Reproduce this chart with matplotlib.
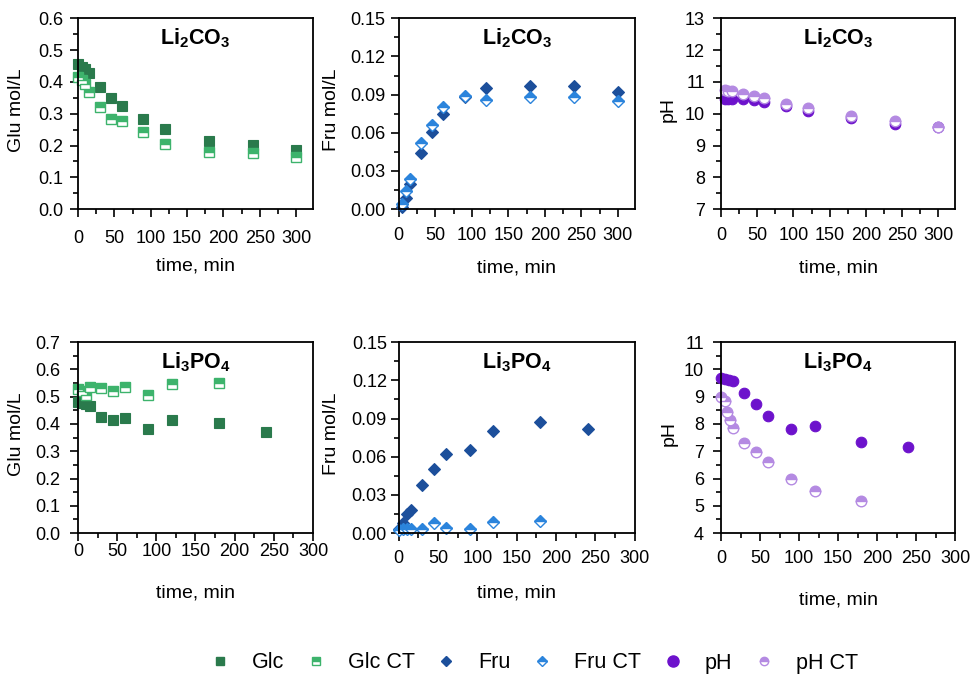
import matplotlib
matplotlib.use("Agg")
import matplotlib.pyplot as plt
from matplotlib.ticker import MultipleLocator, FormatStrFormatter
from matplotlib.lines import Line2D

plt.rcParams['font.family'] = ['Liberation Sans', 'DejaVu Sans']
plt.rcParams['mathtext.fontset'] = 'custom'
plt.rcParams['mathtext.rm'] = 'Liberation Sans'
plt.rcParams['mathtext.bf'] = 'Liberation Sans:bold'

# ---- Li2CO3 runs ----
t_glc_co3 = [0, 5, 10, 15, 30, 45, 60, 90, 120, 180, 240, 300]
glc_co3 = [0.455, 0.447, 0.440, 0.428, 0.385, 0.348, 0.325, 0.285, 0.252, 0.215, 0.202, 0.187]
glc_ct_co3 = [0.415, 0.405, 0.395, 0.368, 0.322, 0.285, 0.278, 0.243, 0.205, 0.180, 0.175, 0.165]

t_fru_co3 = [5, 10, 15, 30, 45, 60, 90, 120, 180, 240, 300]
fru_co3 = [0.002, 0.009, 0.020, 0.044, 0.061, 0.075, 0.088, 0.095, 0.097, 0.097, 0.092]
fru_ct_co3 = [0.004, 0.014, 0.024, 0.052, 0.066, 0.080, 0.089, 0.086, 0.088, 0.088, 0.085]

t_ph_co3 = [5, 10, 15, 30, 45, 60, 90, 120, 180, 240, 300]
ph_co3 = [10.45, 10.45, 10.47, 10.47, 10.43, 10.38, 10.24, 10.08, 9.87, 9.67, 9.57]
ph_ct_co3 = [10.74, 10.72, 10.70, 10.63, 10.57, 10.50, 10.32, 10.17, 9.92, 9.77, 9.59]

# ---- Li3PO4 runs ----
t_glc_po4 = [0, 5, 10, 15, 30, 45, 60, 90, 120, 180, 240]
glc_po4 = [0.482, 0.476, 0.472, 0.467, 0.427, 0.415, 0.423, 0.383, 0.416, 0.403, 0.370]
t_glc_ct_po4 = [0, 5, 10, 15, 30, 45, 60, 90, 120, 180]
glc_ct_po4 = [0.530, 0.520, 0.505, 0.537, 0.531, 0.522, 0.537, 0.508, 0.545, 0.551]

t_fru_po4 = [0, 5, 10, 15, 30, 45, 60, 90, 120, 180, 240]
fru_po4 = [0.003, 0.008, 0.015, 0.018, 0.038, 0.050, 0.062, 0.065, 0.080, 0.087, 0.082]
t_fru_ct_po4 = [0, 5, 10, 15, 30, 45, 60, 90, 120, 180]
fru_ct_po4 = [0.002, 0.003, 0.003, 0.003, 0.003, 0.008, 0.004, 0.003, 0.009, 0.0097]

t_ph_po4 = [0, 5, 10, 15, 30, 45, 60, 90, 120, 180, 240]
ph_po4 = [9.68, 9.65, 9.62, 9.57, 9.15, 8.74, 8.31, 7.82, 7.94, 7.35, 7.15]
t_ph_ct_po4 = [0, 5, 8, 11, 15, 30, 45, 60, 90, 120, 180]
ph_ct_po4 = [9.00, 8.85, 8.45, 8.15, 7.85, 7.32, 6.96, 6.61, 6.00, 5.54, 5.18]

# colours
GLC = '#2a7a4c'
GLC_CT = '#3db36c'
FRU = '#1c4f9b'
FRU_CT = '#2b84dc'
PH = '#6d12cc'
PH_CT = '#b48ae2'

TITLE_CO3 = r'$\mathbf{Li_2CO_3}$'
TITLE_PO4 = r'$\mathbf{Li_3PO_4}$'

fig = plt.figure(figsize=(9.75, 6.79), dpi=100)

top_b, bot_b, h = 0.692, 0.215, 0.281
lefts = [0.080, 0.409, 0.7395]
widths = [0.241, 0.242, 0.240]


def style_axis(ax, xmax, ylim, ymajor, yfmt, ylabel, title,
               xpad, ypad, xlab_y, ylab_x):
    ax.set_xlim(0, xmax)
    ax.set_ylim(*ylim)
    ax.xaxis.set_major_locator(MultipleLocator(50))
    ax.xaxis.set_minor_locator(MultipleLocator(25))
    ax.yaxis.set_major_locator(MultipleLocator(ymajor))
    ax.yaxis.set_minor_locator(MultipleLocator(ymajor / 2))
    ax.yaxis.set_major_formatter(FormatStrFormatter(yfmt))
    ax.tick_params(which='both', direction='out', top=False, right=False,
                   labelsize=13, width=1.2)
    ax.tick_params(which='major', length=6)
    ax.tick_params(which='minor', length=3.5)
    ax.tick_params(axis='x', pad=xpad)
    ax.tick_params(axis='y', pad=ypad)
    for sp in ax.spines.values():
        sp.set_linewidth(1.3)
    ax.set_xlabel('time, min', fontsize=14)
    ax.set_ylabel(ylabel, fontsize=14)
    ax.xaxis.set_label_coords(0.5, xlab_y)
    ax.xaxis.label.set_va('center')
    ax.yaxis.set_label_coords(ylab_x, 0.52)
    ax.yaxis.label.set_va('center')
    ax.text(0.5, 0.895, title, transform=ax.transAxes, ha='center', va='center',
            fontsize=15.5)


def pts(ax, x, y, color, marker, ms, half=False):
    if half:
        ax.plot(x, y, ls='none', marker=marker, ms=ms, color=color, mec=color,
                mew=1.0, fillstyle='top', markerfacecoloralt='white', clip_on=False)
    else:
        ax.plot(x, y, ls='none', marker=marker, ms=ms, color=color, mec=color,
                mew=0.8, clip_on=False)


SQ, DI, CI = 6.8, 5.8, 7.6

# top row
ax1 = fig.add_axes([lefts[0], top_b, widths[0], h])
pts(ax1, t_glc_co3, glc_co3, GLC, 's', SQ)
pts(ax1, t_glc_co3, glc_ct_co3, GLC_CT, 's', SQ, half=True)
style_axis(ax1, 323, (0, 0.6), 0.1, '%.1f', 'Glu mol/L', TITLE_CO3,
           9, 4.8, -0.30, -0.26)

ax2 = fig.add_axes([lefts[1], top_b, widths[1], h])
pts(ax2, t_fru_co3, fru_co3, FRU, 'D', DI)
pts(ax2, t_fru_co3, fru_ct_co3, FRU_CT, 'D', DI, half=True)
style_axis(ax2, 323, (0, 0.15), 0.03, '%.2f', 'Fru mol/L', TITLE_CO3,
           7, 3.4, -0.31, -0.284)

ax3 = fig.add_axes([lefts[2], top_b, widths[2], h])
pts(ax3, t_ph_co3, ph_co3, PH, 'o', CI)
pts(ax3, t_ph_co3, ph_ct_co3, PH_CT, 'o', CI, half=True)
style_axis(ax3, 323, (7, 13), 1, '%d', 'pH', TITLE_CO3,
           7, 5.5, -0.31, -0.226)

# bottom row
ax4 = fig.add_axes([lefts[0], bot_b, widths[0], h])
pts(ax4, t_glc_po4, glc_po4, GLC, 's', SQ)
pts(ax4, t_glc_ct_po4, glc_ct_po4, GLC_CT, 's', SQ, half=True)
style_axis(ax4, 300, (0, 0.7), 0.1, '%.1f', 'Glu mol/L', TITLE_PO4,
           1.5, 7, -0.316, -0.26)

ax5 = fig.add_axes([lefts[1], bot_b, widths[1], h])
pts(ax5, t_fru_po4, fru_po4, FRU, 'D', DI)
pts(ax5, t_fru_ct_po4, fru_ct_po4, FRU_CT, 'D', DI, half=True)
style_axis(ax5, 300, (0, 0.15), 0.03, '%.2f', 'Fru mol/L', TITLE_PO4,
           6.3, 2.6, -0.316, -0.284)

ax6 = fig.add_axes([lefts[2], bot_b, widths[2], h])
pts(ax6, t_ph_po4, ph_po4, PH, 'o', CI)
pts(ax6, t_ph_ct_po4, ph_ct_po4, PH_CT, 'o', CI, half=True)
style_axis(ax6, 300, (4, 11), 1, '%d', 'pH', TITLE_PO4,
           6.3, 6.2, -0.35, -0.221)

# shared legend along the bottom
handles = [
    Line2D([], [], ls='none', marker='s', ms=6, color=GLC),
    Line2D([], [], ls='none', marker='s', ms=6, color=GLC_CT, fillstyle='top',
           markerfacecoloralt='white'),
    Line2D([], [], ls='none', marker='D', ms=5.5, color=FRU),
    Line2D([], [], ls='none', marker='D', ms=5.5, color=FRU_CT, fillstyle='top',
           markerfacecoloralt='white'),
    Line2D([], [], ls='none', marker='o', ms=8, color=PH),
    Line2D([], [], ls='none', marker='o', ms=6, color=PH_CT, fillstyle='top',
           markerfacecoloralt='white'),
]
labels = ['Glc', 'Glc CT', 'Fru', 'Fru CT', 'pH', 'pH CT']
fig.legend(handles, labels, loc='center', bbox_to_anchor=(0.545, 1 - 663 / 679),
           ncol=6, frameon=False, fontsize=15.5, handletextpad=0.8,
           columnspacing=0.75, handlelength=1.4)

fig.savefig('out.png', dpi=100)
